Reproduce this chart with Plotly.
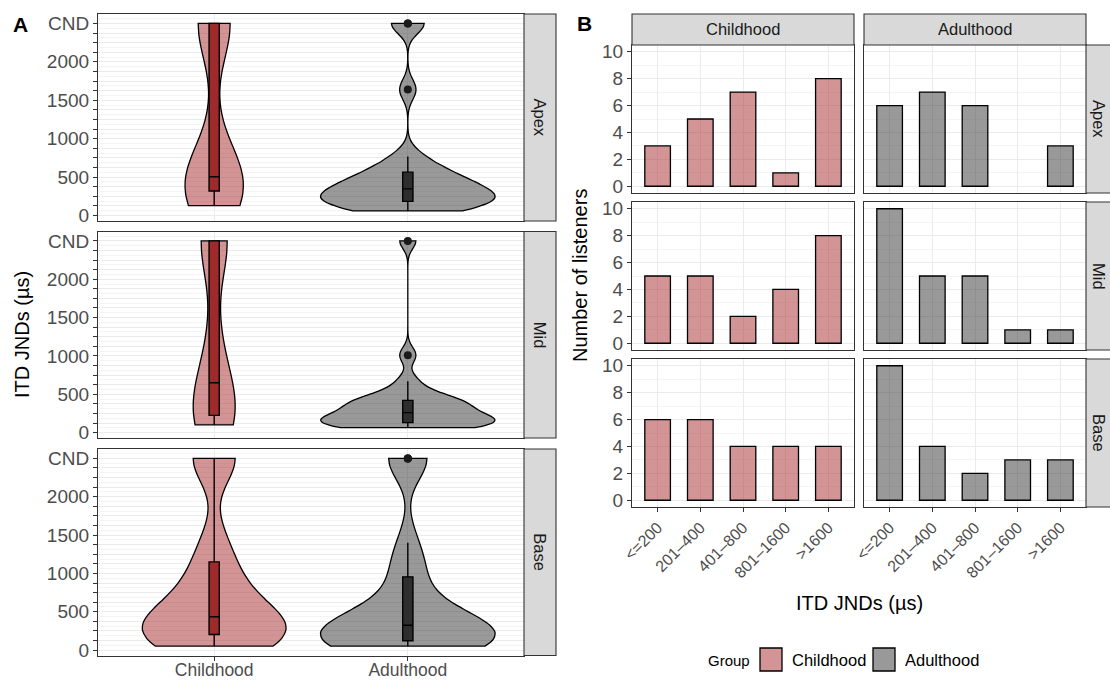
import numpy as np
import plotly.graph_objects as go

W, H = 1110, 680
FONT = "Liberation Sans, Arial, Helvetica, sans-serif"

# ---------------- data ----------------
regions = ["Apex", "Mid", "Base"]
groups = ["Childhood", "Adulthood"]
bin_labels = ["<=200", "201–400", "401–800", "801–1600", ">1600"]
CND = 2500  # "could not determine" plotted at 2500 µs
y_label_values = [0, 500, 1000, 1500, 2000]

apex_childhood = [130, 160, 200, 240, 280, 310, 330, 380, 420, 450, 480, 500,
                  510, 560, 650, 1100, 2500, 2500, 2500, 2500, 2500, 2500, 2500, 2500]
apex_adulthood = [61, 90, 120, 150, 170, 185, 210, 240, 270, 300, 340, 355,
                  390, 430, 480, 530, 565, 650, 770, 1640, 2500, 2500]
mid_childhood = [100, 120, 150, 170, 190, 210, 240, 290, 330, 380, 430, 480,
                 820, 950, 1100, 1300, 2500, 2500, 2500, 2500, 2500, 2500, 2500, 2500]
mid_adulthood = [65, 80, 95, 105, 120, 130, 145, 160, 180, 195, 240, 280,
                 310, 350, 380, 410, 420, 450, 520, 670, 1010, 2500]
base_childhood = [52, 80, 110, 140, 170, 195, 210, 240, 270, 300, 340, 390,
                  480, 560, 650, 760, 900, 1050, 1250, 1450, 2500, 2500, 2500, 2500]
base_adulthood = [52, 70, 85, 100, 110, 122, 140, 160, 175, 195, 300, 350,
                  370, 390, 500, 650, 955, 1100, 1400, 2500, 2500, 2500]

# number of listeners per JND bin
apex_childhood_counts = [3, 5, 7, 1, 8]
apex_adulthood_counts = [6, 7, 6, 0, 3]
mid_childhood_counts = [5, 5, 2, 4, 8]
mid_adulthood_counts = [10, 5, 5, 1, 1]
base_childhood_counts = [6, 6, 4, 4, 4]
base_adulthood_counts = [10, 4, 2, 3, 3]

jnds = {
    ("Apex", "Childhood"): apex_childhood, ("Apex", "Adulthood"): apex_adulthood,
    ("Mid", "Childhood"): mid_childhood, ("Mid", "Adulthood"): mid_adulthood,
    ("Base", "Childhood"): base_childhood, ("Base", "Adulthood"): base_adulthood,
}
counts = {
    ("Apex", "Childhood"): apex_childhood_counts, ("Apex", "Adulthood"): apex_adulthood_counts,
    ("Mid", "Childhood"): mid_childhood_counts, ("Mid", "Adulthood"): mid_adulthood_counts,
    ("Base", "Childhood"): base_childhood_counts, ("Base", "Adulthood"): base_adulthood_counts,
}

# ---------------- style ----------------
fill = {"Childhood": "rgba(165,42,42,0.5)", "Adulthood": "rgba(51,51,51,0.5)"}
box_fill = {"Childhood": "#9E2A2B", "Adulthood": "#2E2E2E"}
violin_width = {
    ("Apex", "Childhood"): 0.30, ("Apex", "Adulthood"): 0.90,
    ("Mid", "Childhood"): 0.215, ("Mid", "Adulthood"): 0.90,
    ("Base", "Childhood"): 0.74, ("Base", "Adulthood"): 0.90,
}
BOX_W = 0.053
BAR_W = 0.6
LINE_C = "#333333"
GRID_C = "#EBEBEB"
MINOR_C = "#F4F4F4"
TICK_C = "#4D4D4D"
STRIP_FILL = "#D9D9D9"

A_X = (98, 524)
A_ROWS = [(14, 221), (231.5, 438), (449, 655.5)]
A_STRIP_X = (524, 556)
B_COLS = [(632, 854), (864, 1086)]
B_ROWS = [(45, 193), (202, 350), (359, 507)]
B_TOP_STRIP_Y = (14, 45)
B_RIGHT_STRIP_X = (1086, 1118)


def fx(p):
    return p / W


def fy(p):
    return 1 - p / H


def nrd0(v):
    v = np.asarray(v, float)
    sd = v.std(ddof=1)
    q75, q25 = np.percentile(v, [75, 25])
    lo = min(sd, (q75 - q25) / 1.34)
    return 0.9 * lo * len(v) ** -0.2


def axname(i, kind):
    return kind if i == 1 else f"{kind}{i}"


def note(text, x, y, size, color="black", angle=0, xanchor="center", bold=False):
    return dict(text=f"<b>{text}</b>" if bold else text, xref="paper", yref="paper",
                x=fx(x), y=fy(y), xanchor=xanchor, yanchor="middle", textangle=angle,
                showarrow=False, font=dict(family=FONT, size=size, color=color))


fig = go.Figure()
layout = dict(
    template="none",
    width=W, height=H, margin=dict(l=0, r=0, t=0, b=0, pad=0), autosize=False,
    paper_bgcolor="white", plot_bgcolor="white", showlegend=False,
    violinmode="overlay", barmode="overlay",
    font=dict(family=FONT, color="black"),
)
shapes, annotations = [], []

# ---------------- panel A: violins ----------------
all_vals = np.concatenate([np.asarray(v, float) for v in jnds.values()])
lo, hi = all_vals.min(), all_vals.max()
pad = 0.05 * (hi - lo)
a_range = [lo - pad, hi + pad]
a_tickvals = list(np.arange(0, CND + 1, 125))
a_ticktext = ["CND" if v == CND else (str(int(v)) if int(v) in y_label_values else "") for v in a_tickvals]

for r, region in enumerate(regions):
    i = r + 1
    for g in groups:
        vals = np.asarray(jnds[(region, g)], float)
        w = violin_width[(region, g)]
        fig.add_trace(go.Violin(
            x=[g] * len(vals), y=vals, name=g,
            xaxis=axname(i, "x"), yaxis=axname(i, "y"),
            width=w, scalemode="width", spanmode="hard", bandwidth=nrd0(vals),
            fillcolor=fill[g], line=dict(color="black", width=1.3),
            box=dict(visible=True, width=BOX_W / w, fillcolor=box_fill[g],
                     line=dict(color="black", width=1.4)),
            meanline=dict(visible=False), points="outliers", pointpos=0, jitter=0,
            marker=dict(color="#1A1A1A", size=8, line=dict(width=0)),
            showlegend=False, hoverinfo="skip",
        ))
    top, bot = A_ROWS[r]
    bottom_row = r == len(regions) - 1
    layout[("xaxis" if i == 1 else f"xaxis{i}")] = dict(
        domain=[fx(A_X[0]), fx(A_X[1])], anchor=axname(i, "y"), automargin=False,
        type="category", categoryorder="array", categoryarray=groups,
        range=[-0.6, len(groups) - 0.4],
        showline=True, mirror=True, linecolor=LINE_C, linewidth=1.1,
        showgrid=True, gridcolor=GRID_C, gridwidth=1, zeroline=False,
        ticks="outside" if bottom_row else "", ticklen=4, tickcolor=LINE_C, tickwidth=1.1,
        showticklabels=bottom_row, ticklabelstandoff=-6,
        tickfont=dict(family=FONT, size=17.5, color=TICK_C),
    )
    layout[("yaxis" if i == 1 else f"yaxis{i}")] = dict(
        domain=[fy(bot), fy(top)], anchor=axname(i, "x"), automargin=False,
        range=a_range, tickmode="array", tickvals=a_tickvals, ticktext=a_ticktext,
        showline=True, mirror=True, linecolor=LINE_C, linewidth=1.1,
        showgrid=True, gridcolor=GRID_C, gridwidth=1, zeroline=False,
        minor=dict(tickmode="linear", tick0=0, dtick=62.5, showgrid=True,
                   gridcolor=MINOR_C, gridwidth=0.8, ticks=""),
        ticks="outside", ticklen=4, tickcolor=LINE_C, tickwidth=1.1,
        tickfont=dict(family=FONT, size=19, color=TICK_C),
    )
    shapes.append(dict(type="rect", xref="paper", yref="paper",
                       x0=fx(A_STRIP_X[0]), x1=fx(A_STRIP_X[1]), y0=fy(bot), y1=fy(top),
                       fillcolor=STRIP_FILL, line=dict(color=LINE_C, width=1.1)))
    annotations.append(note(region, sum(A_STRIP_X) / 2, (top + bot) / 2, 16.5, "#1A1A1A", 90))

# ---------------- panel B: bars ----------------
max_count = max(max(c) for c in counts.values())
b_range = [-0.05 * max_count, max_count * 1.05]
for r, region in enumerate(regions):
    top, bot = B_ROWS[r]
    for c, g in enumerate(groups):
        i = 4 + r * 2 + c
        fig.add_trace(go.Bar(
            x=bin_labels, y=[v if v > 0 else None for v in counts[(region, g)]], width=BAR_W,
            marker=dict(color=fill[g], line=dict(color="black", width=1.3)),
            xaxis=axname(i, "x"), yaxis=axname(i, "y"),
            showlegend=False, hoverinfo="skip", name=g,
        ))
        bottom_row = r == len(regions) - 1
        first_col = c == 0
        layout[f"xaxis{i}"] = dict(
            domain=[fx(B_COLS[c][0]), fx(B_COLS[c][1])], anchor=axname(i, "y"), automargin=False,
            type="category", categoryorder="array", categoryarray=bin_labels,
            range=[-0.6, len(bin_labels) - 0.4],
            showline=True, mirror=True, linecolor=LINE_C, linewidth=1.1,
            showgrid=True, gridcolor=GRID_C, gridwidth=1, zeroline=False,
            ticks="outside" if bottom_row else "", ticklen=4, tickcolor=LINE_C, tickwidth=1.1,
            showticklabels=bottom_row, tickangle=-45,
            tickfont=dict(family=FONT, size=16, color=TICK_C),
        )
        layout[f"yaxis{i}"] = dict(
            domain=[fy(bot), fy(top)], anchor=axname(i, "x"), automargin=False,
            range=b_range, tickmode="array", tickvals=list(range(0, max_count + 1, 2)),
            showline=True, mirror=True, linecolor=LINE_C, linewidth=1.1,
            showgrid=True, gridcolor=GRID_C, gridwidth=1, zeroline=False,
            minor=dict(tickmode="linear", tick0=0, dtick=1, showgrid=True,
                       gridcolor=MINOR_C, gridwidth=0.8, ticks=""),
            ticks="outside" if first_col else "", ticklen=4, tickcolor=LINE_C, tickwidth=1.1,
            showticklabels=first_col,
            tickfont=dict(family=FONT, size=19, color=TICK_C),
        )
    shapes.append(dict(type="rect", xref="paper", yref="paper",
                       x0=fx(B_RIGHT_STRIP_X[0]), x1=fx(B_RIGHT_STRIP_X[1]), y0=fy(bot), y1=fy(top),
                       fillcolor=STRIP_FILL, line=dict(color=LINE_C, width=1.1)))
    annotations.append(note(region, 1099, (top + bot) / 2, 16.5, "#1A1A1A", 90))

for c, g in enumerate(groups):
    shapes.append(dict(type="rect", xref="paper", yref="paper",
                       x0=fx(B_COLS[c][0]), x1=fx(B_COLS[c][1]),
                       y0=fy(B_TOP_STRIP_Y[1]), y1=fy(B_TOP_STRIP_Y[0]),
                       fillcolor=STRIP_FILL, line=dict(color=LINE_C, width=1.1)))
    annotations.append(note(g, sum(B_COLS[c]) / 2, sum(B_TOP_STRIP_Y) / 2, 16.5, "#1A1A1A"))

# ---------------- titles & labels ----------------
annotations += [
    note("A", 11, 25, 21, xanchor="left", bold=True),
    note("B", 575, 24, 21, xanchor="left", bold=True),
    note("ITD JNDs (µs)", 22, 335, 20, angle=-90),
    note("Number of listeners", 580, 276, 20, angle=-90),
    note("ITD JNDs (µs)", 859, 603, 20),
    note("Group", 752, 660, 15, xanchor="right"),
]

# legend
legend_items = [(groups[0], 760, 790), (groups[1], 873, 903)]
for g, sx, tx in legend_items:
    shapes.append(dict(type="rect", xref="paper", yref="paper",
                       x0=fx(sx), x1=fx(sx + 22), y0=fy(671), y1=fy(648),
                       fillcolor=fill[g], line=dict(color="black", width=1.3)))
    annotations.append(note(g, tx, 660, 16.5, xanchor="left"))

layout["shapes"] = shapes
layout["annotations"] = annotations
fig.update_layout(**layout)
fig.write_html("out.html", config={"displayModeBar": False},
               post_script="document.body.style.margin='0px';document.body.style.padding='0px';")
